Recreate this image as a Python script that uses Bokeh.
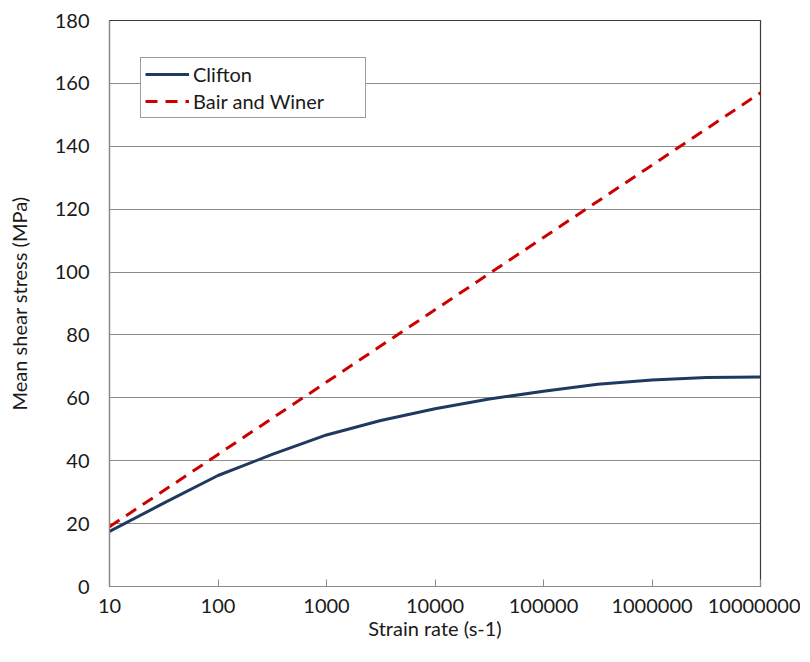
from bokeh.plotting import figure
from bokeh.models import FixedTicker, CustomJSTickFormatter, Legend, LegendItem
from bokeh.embed import file_html
from bokeh.resources import INLINE

# Data
strain_rate = [10, 31.6, 100, 316, 1000, 3162, 10000, 31623, 100000, 316228, 1000000, 3162278, 10000000]
clifton = [17.5, 26.5, 35.3, 42.0, 48.2, 52.8, 56.5, 59.6, 62.1, 64.3, 65.7, 66.5, 66.6]
bair_rate = [10, 100, 1000, 10000, 100000, 1000000, 10000000]
bair_winer = [19.0, 42.0, 65.0, 88.0, 111.0, 134.0, 157.0]

x_ticks = [10, 100, 1000, 10000, 100000, 1000000, 10000000]
y_ticks = [0, 20, 40, 60, 80, 100, 120, 140, 160, 180]

FONT = "Lato"
FS = "20px"
TXT = "#1a1a1a"

p = figure(width=800, height=650, x_axis_type="log",
           x_range=(10, 10000000), y_range=(0, 180),
           output_backend="svg", toolbar_location=None,
           min_border_left=109, min_border_top=20, min_border_right=40, min_border_bottom=64)

p.background_fill_color = "white"
p.border_fill_color = "white"
p.outline_line_color = "#3a3a3a"
p.outline_line_width = 1.2

r1 = p.line(strain_rate, clifton, line_color="#1f3a60", line_width=3)
r2 = p.line(bair_rate, bair_winer, line_color="#cc0000", line_width=3, line_dash="12 8")

# Axes
p.xaxis.ticker = FixedTicker(ticks=x_ticks)
p.xaxis.formatter = CustomJSTickFormatter(code="return tick.toFixed(0);")
p.yaxis.ticker = FixedTicker(ticks=y_ticks)
for ax in (p.xaxis[0], p.yaxis[0]):
    ax.axis_line_color = "#8a8a8a"
    ax.axis_line_width = 1.2
    ax.major_label_text_font = FONT
    ax.major_label_text_font_size = FS
    ax.major_label_text_color = TXT
    ax.axis_label_text_font = FONT
    ax.axis_label_text_font_size = FS
    ax.axis_label_text_font_style = "normal"
    ax.axis_label_text_color = TXT
    ax.minor_tick_line_color = None

p.xaxis.major_tick_line_color = "#8a8a8a"
p.xaxis.major_tick_in = 7
p.xaxis.major_tick_out = 0
p.xaxis.major_label_standoff = 12
p.xaxis.axis_label = "Strain rate (s-1)"
p.xaxis.axis_label_standoff = 0

p.yaxis.major_tick_line_color = None
p.yaxis.major_tick_in = 0
p.yaxis.major_tick_out = 0
p.yaxis.major_label_standoff = 20
p.yaxis.axis_label = "Mean shear stress (MPa)"
p.yaxis.axis_label_standoff = 21

p.xgrid.grid_line_color = None
p.ygrid.grid_line_color = "#8c8c8c"
p.ygrid.grid_line_width = 1.2

legend = Legend(items=[LegendItem(label="Clifton", renderers=[r1]),
                       LegendItem(label="Bair and Winer", renderers=[r2])],
                location=(31, 468))
legend.label_text_font = FONT
legend.label_text_font_size = FS
legend.label_text_color = TXT
legend.border_line_color = "#3a3a3a"
legend.border_line_width = 1.2
legend.background_fill_alpha = 1
legend.glyph_width = 44
legend.glyph_height = 22
legend.label_height = 22
legend.label_width = 168
legend.label_standoff = 4
legend.spacing = 3
legend.padding = 4
legend.margin = 0
p.add_layout(legend, "center")

open("out.html", "w").write(file_html(p, INLINE))
